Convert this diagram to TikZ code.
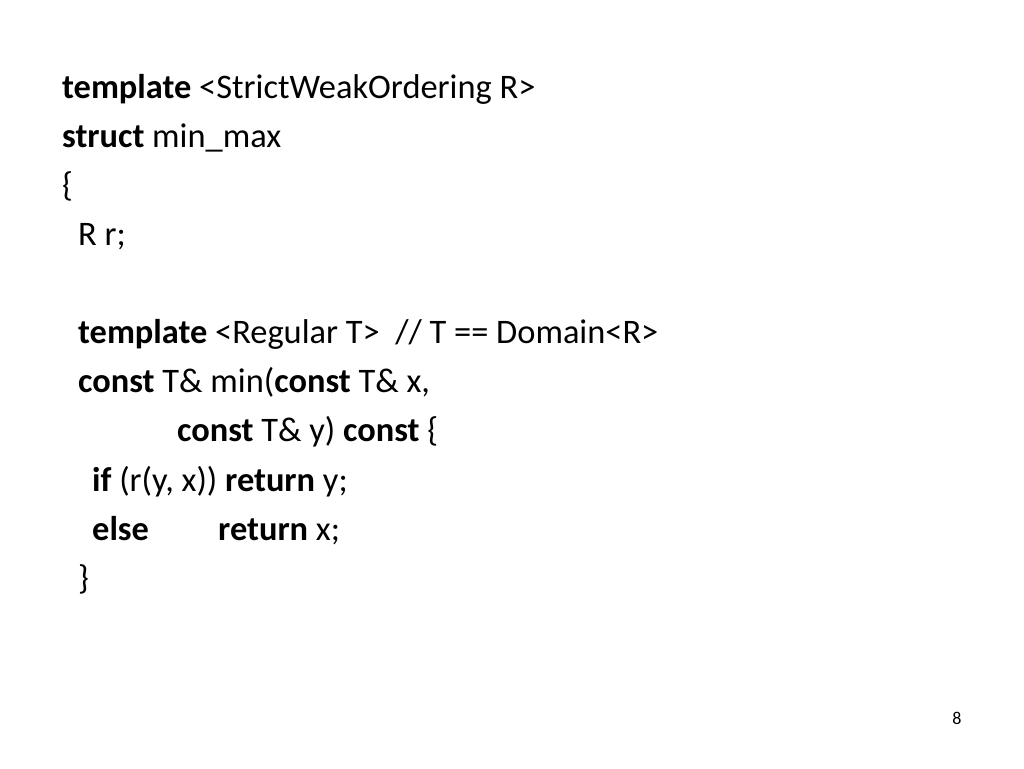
\documentclass[tikz,border=0pt]{standalone}
\usepackage{fontspec}
\setmainfont{Carlito}
\begin{document}
\begin{tikzpicture}[x=1pt,y=1pt,
  code/.style={anchor=base west,inner sep=0pt,font=\fontsize{34.4}{36}\selectfont}]
\useasboundingbox[fill=white] (0,0) rectangle (1024,-768);
\node[code] (l1) at (62,-98) {\textbf{template} <StrictWeakOrdering R>};
\node[code] (l2) at (62,-147) {\textbf{struct} min\_max};
\node[code] (l3) at (62,-196) {\{};
\node[code] (l4) at (78,-245) {R r;};
\node[code] (l5) at (78,-343) {\textbf{template} <Regular T>\ \ // T == Domain<R>};
\node[code] (l6) at (78,-392) {\textbf{const} T\& min(\textbf{const} T\& x,};
\node[code] (l7) at (177,-441) {\textbf{const} T\& y) \textbf{const} \{};
\node[code] (l8) at (92,-491) {\textbf{if} (r(y, x)) \textbf{return} y;};
\node[code] (l9) at (92,-540) {\textbf{else}};
\node[code] (l9b) at (218,-540) {\textbf{return} x;};
\node[code] (l10) at (78,-589) {\}};
\node[anchor=base,inner sep=0pt,font=\fontsize{18}{20}\selectfont] (pg) at (957,-724) {8};
\end{tikzpicture}
\end{document}
